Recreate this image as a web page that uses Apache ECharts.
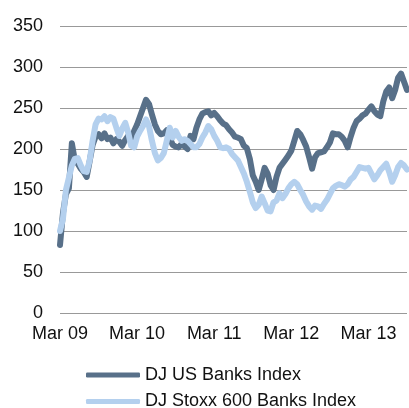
<!DOCTYPE html>
<html>
<head>
<meta charset="utf-8">
<script src="https://cdn.jsdelivr.net/npm/echarts@6/dist/echarts.min.js"></script>
<style>
html,body{margin:0;padding:0;background:#fff;}
#chart{width:409px;height:408px;}
</style>
</head>
<body>
<div id="chart"></div>
<script>
// Biweekly samples starting Mar 2009 (26 samples per year)
const tickLabels = ['Mar 09', 'Mar 10', 'Mar 11', 'Mar 12', 'Mar 13'];
const seriesNames = ['DJ US Banks Index', 'DJ Stoxx 600 Banks Index'];
const usBanks = [
  83,122,145,152,207,186,182,176,172,166,185,205,215,218,213,219,212,214,207,212,
  209,204,211,216,212,222,230,240,250,260,255,242,230,222,218,219,223,214,205,203,
  202,206,203,200,216,212,226,236,243,245,246,241,244,240,235,231,229,224,220,215,
  214,212,204,201,188,168,160,150,163,177,170,156,150,166,177,182,187,192,198,210,
  222,218,211,203,190,176,190,195,196,197,202,208,219,218,218,215,210,202,215,226,
  234,237,241,243,248,252,246,242,240,258,270,275,262,272,287,292,282,272
];
const euBanks = [
  100,115,150,165,180,188,189,180,173,172,186,210,230,237,236,240,234,239,237,226,
  216,225,232,220,204,202,215,222,228,236,228,210,195,186,189,195,210,226,214,222,
  215,210,212,210,206,202,202,206,214,220,228,224,216,210,202,201,202,200,194,190,
  186,178,170,160,148,135,128,132,142,134,125,124,135,137,146,140,145,152,157,160,
  157,150,144,136,130,126,131,130,127,133,138,145,152,155,157,156,154,157,163,166,
  172,178,177,176,177,170,163,168,174,178,182,172,160,168,178,183,180,175
];
const stepsPerYear = 26;

const chart = echarts.init(document.getElementById('chart'), null, {renderer: 'canvas'});
const font = '"Liberation Sans", Arial, sans-serif';
const toPairs = arr => arr.map((v, i) => [i, v]);

chart.setOption({
  animation: false,
  backgroundColor: '#ffffff',
  grid: {left: 60, right: 2, top: 26, bottom: 95, containLabel: false},
  xAxis: {
    type: 'value',
    min: 0,
    max: usBanks.length - 1,
    interval: stepsPerYear,
    axisLine: {show: false},
    axisTick: {show: false},
    splitLine: {show: false},
    axisLabel: {
      margin: 12,
      color: '#111',
      fontFamily: font,
      fontSize: 18,
      showMaxLabel: false,
      formatter: v => (v % stepsPerYear === 0 ? (tickLabels[v / stepsPerYear] || '') : '')
    }
  },
  yAxis: {
    type: 'value',
    min: 0,
    max: 350,
    interval: 50,
    axisLine: {show: false},
    axisTick: {show: false},
    splitLine: {show: true, lineStyle: {color: '#999999', width: 1}},
    axisLabel: {margin: 17, color: '#111', fontFamily: font, fontSize: 18}
  },
  legend: {
    orient: 'vertical',
    left: 86,
    top: 366,
    width: 320,
    height: 60,
    padding: 0,
    itemWidth: 54,
    itemHeight: 5,
    itemGap: 8.5,
    icon: 'roundRect',
    textStyle: {color: '#111', fontFamily: font, fontSize: 18},
    data: seriesNames
  },
  series: [
    {
      name: seriesNames[0],
      type: 'line',
      data: toPairs(usBanks),
      showSymbol: false,
      symbol: 'none',
      color: '#587089',
      lineStyle: {color: '#587089', width: 6, cap: 'round', join: 'round'}
    },
    {
      name: seriesNames[1],
      type: 'line',
      data: toPairs(euBanks),
      showSymbol: false,
      symbol: 'none',
      color: '#b4d0ee',
      lineStyle: {color: '#b4d0ee', width: 6, cap: 'round', join: 'round'}
    }
  ]
});
</script>
</body>
</html>
